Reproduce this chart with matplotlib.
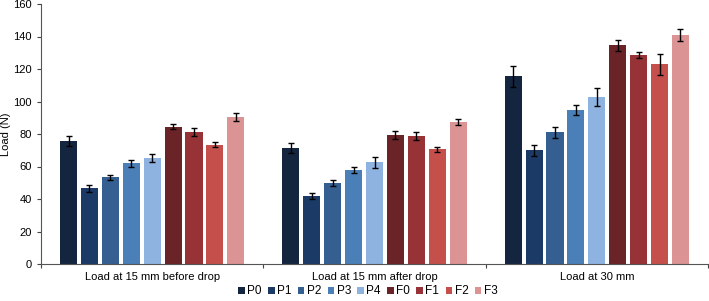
import numpy as np
import matplotlib.pyplot as plt

plt.rcParams['font.family'] = ['Liberation Sans', 'DejaVu Sans']

groups = ['Load at 15 mm before drop', 'Load at 15 mm after drop', 'Load at 30 mm']
series = ['P0', 'P1', 'P2', 'P3', 'P4', 'F0', 'F1', 'F2', 'F3']
colors = ['#14253f', '#1c3a66', '#355f91', '#4a7fb8', '#8fb3e1',
          '#6a2327', '#973236', '#c5504b', '#db9394']

# mean load per series, one value per group
means = {
    'P0': [75.5, 71.5, 115.5],
    'P1': [46.5, 42.0, 70.0],
    'P2': [53.5, 50.0, 81.0],
    'P3': [62.0, 58.0, 95.0],
    'P4': [65.0, 62.5, 103.0],
    'F0': [84.5, 79.5, 134.5],
    'F1': [81.5, 79.0, 128.5],
    'F2': [73.5, 70.5, 123.0],
    'F3': [90.5, 87.5, 141.0],
}
# error bar half widths
errs = {
    'P0': [3.0, 3.0, 6.5],
    'P1': [2.0, 2.0, 3.5],
    'P2': [1.5, 2.0, 3.5],
    'P3': [2.0, 2.0, 3.0],
    'P4': [2.5, 3.5, 5.5],
    'F0': [1.5, 2.5, 3.5],
    'F1': [2.5, 2.5, 2.0],
    'F2': [1.5, 1.5, 6.5],
    'F3': [2.5, 2.0, 3.5],
}

fig = plt.figure(figsize=(7.09, 3.01), dpi=100)
ax = fig.add_axes([41 / 709, 1 - 264 / 301, 667 / 709, 260 / 301])

x = np.arange(len(groups))
n = len(series)
step = 0.094
width = 0.077
for i, s in enumerate(series):
    pos = x + (i - (n - 1) / 2) * step
    ax.bar(pos, means[s], width, color=colors[i], label=s,
           yerr=errs[s], error_kw=dict(ecolor='black', elinewidth=1, capsize=2.2, capthick=1))

ax.set_xlim(-0.5, len(groups) - 0.5)
ax.set_ylim(0, 160)
ax.set_yticks(range(0, 161, 20))
ax.set_xticks(x)
ax.set_xticklabels(groups, fontsize=8)
ax.tick_params(axis='x', length=0, pad=6)
ax.set_xticks(np.arange(-0.5, len(groups)), minor=True)
ax.tick_params(axis='x', which='minor', length=3, width=0.8, color='#444444')
ax.tick_params(axis='y', labelsize=8, length=3, width=0.8, color='#444444')
ax.set_ylabel('Load (N)', fontsize=8, labelpad=2)

for sp in ['top', 'right']:
    ax.spines[sp].set_visible(False)
for sp in ['left', 'bottom']:
    ax.spines[sp].set_color('#555555')
    ax.spines[sp].set_linewidth(0.8)

ax.legend(loc='center', bbox_to_anchor=(0.49, -0.105), ncol=n, frameon=False,
          fontsize=8.5, handlelength=0.55, handleheight=0.55, handletextpad=0.2,
          columnspacing=0.55, borderpad=0, borderaxespad=0)

fig.savefig('out.png', dpi=100)
